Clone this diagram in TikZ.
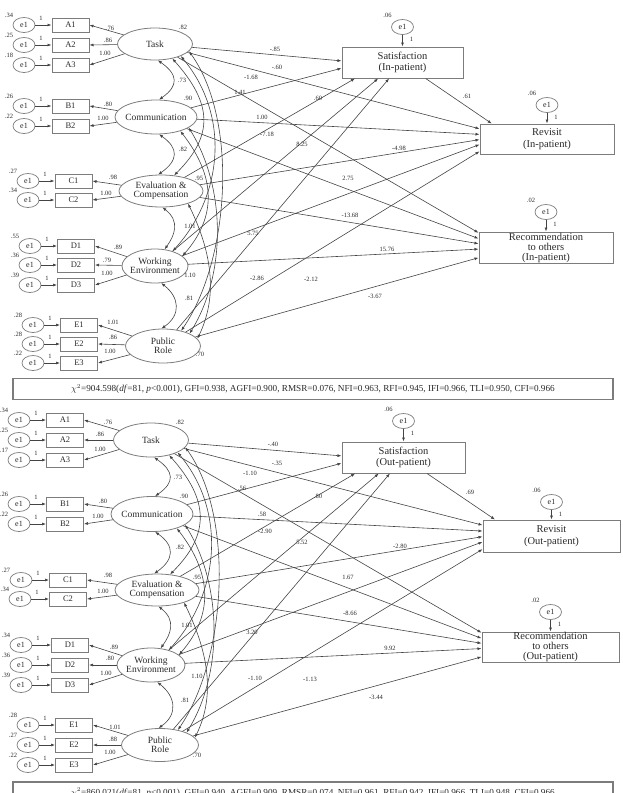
\documentclass[tikz,border=0pt]{standalone}
\usepackage{fontspec}
\setmainfont{Liberation Serif}
\usetikzlibrary{arrows.meta,calc,shapes.geometric}

\definecolor{ink}{HTML}{2A2A2A}
\definecolor{rim}{HTML}{7C7C7C}
\definecolor{wire}{HTML}{444444}

\tikzset{
  >={Latex[length=4pt,width=3pt]},
  lat/.style={ellipse, draw=rim, line width=0.8pt, inner xsep=-16pt, inner ysep=-4pt,
    align=center, font=\fontsize{9.5}{9}\selectfont, text=ink},
  ind/.style={rectangle, draw=rim, line width=1pt, minimum width=37pt, minimum height=14pt,
    inner sep=0pt, font=\fontsize{8.5}{9}\selectfont, text=ink},
  err/.style={ellipse, draw=rim, line width=0.7pt, minimum width=22pt, minimum height=15pt,
    inner sep=0pt, font=\fontsize{8}{8}\selectfont, text=ink},
  outc/.style={rectangle, draw=rim, line width=1pt, inner sep=0pt, align=center,
    font=\fontsize{10.5}{10}\selectfont, text=ink},
  num/.style={inner sep=0pt, font=\fontsize{6.5}{7}\selectfont, text=ink},
  fitbox/.style={rectangle, draw=rim, line width=1.2pt, minimum width=600pt, minimum height=21pt,
    inner sep=0pt, font=\fontsize{9.2}{9}\selectfont, text=ink},
  arr/.style={draw=wire, line width=0.6pt, ->},
  cov/.style={draw=wire, line width=0.6pt, <->},
}

% indicator row: name, text, box x, y, error x, variance, factor, loading, loading position
\newcommand\indrow[9]{%
  \node[ind] (#1) at (#3,#4) {#2};
  \node[err] (e#1) at (#5,#4) {e1};
  \draw[arr] (e#1) -- (#1);
  \node[num] at ($(e#1)+(17,-7)$) {1};
  \node[num] at ($(e#1)+(-15,-10)$) {#6};
  \draw[arr] (#7) -- (#1.east);
  \node[num] at (#9) {#8};
}

% outcome box: name, text, centre x, centre y, width, height, variance, error y
\newcommand\outbox[8]{%
  \node[outc, minimum width=#5pt, minimum height=#6pt] (#1) at (#3,#4) {#2};
  \node[err] (e#1) at (#3,#8) {e1};
  \draw[arr] (e#1) -- (#1);
  \node[num] at ($(e#1)+(-15,-12)$) {#7};
  \node[num] at ($(e#1)+(9,12)$) {1};
}

% structural paths and factor covariances of one model (prefix t or b)
\newcommand\structure[1]{%
  \foreach \s/\f in {Task/0.45, Comm/0.68}
    \draw[arr] (#1\s) -- ($(#1Sat.north west)!\f!(#1Sat.south west)$);
  \foreach \s/\f in {Eval/0.11, Work/0.30, Pub/0.39}
    \draw[arr] (#1\s) -- ($(#1Sat.south west)!\f!(#1Sat.south east)$);
  \foreach \s/\f in {Task/0.17, Comm/0.35, Eval/0.52, Work/0.68, Pub/0.9}
    \draw[arr] (#1\s) -- ($(#1Rev.north west)!\f!(#1Rev.south west)$);
  \foreach \s/\f in {Task/0.04, Comm/0.22, Eval/0.38, Work/0.55, Pub/0.82}
    \draw[arr] (#1\s) -- ($(#1Rec.north west)!\f!(#1Rec.south west)$);
  \draw[arr] ($(#1Sat.south west)!0.69!(#1Sat.south east)$) -- ($(#1Rev.north west)!0.09!(#1Rev.north east)$);
  % neighbouring factors
  \draw[cov] (#1Task.-80) .. controls +(20,14) and +(20,-14) .. (#1Comm.80);
  \draw[cov] (#1Comm.-80) .. controls +(20,14) and +(20,-14) .. (#1Eval.100);
  \draw[cov] (#1Eval.-85) .. controls +(18,14) and +(10,-14) .. (#1Work.60);
  \draw[cov] (#1Work.-70) .. controls +(18,14) and +(20,-14) .. (#1Pub.95);
  % distant factors
  \draw[cov] (#1Task.-40) .. controls +(40,45) and +(40,-40) .. (#1Eval.50);
  \draw[cov] (#1Task.-25) .. controls +(50,60) and +(50,-55) .. (#1Work.40);
  \draw[cov] (#1Task.-12) .. controls +(50,70) and +(48,-70) .. (#1Pub.40);
  \draw[cov] (#1Comm.-30) .. controls +(35,45) and +(35,-40) .. (#1Work.20);
  \draw[cov] (#1Comm.-18) .. controls +(37,60) and +(37,-60) .. (#1Pub.25);
  \draw[cov] (#1Eval.-25) .. controls +(22,45) and +(22,-45) .. (#1Pub.12);
}

\begin{document}
\begin{tikzpicture}[x=1pt,y=-1pt]
\useasboundingbox (0,0) rectangle (623,793);
\begin{scope}
\clip (0,0) rectangle (623,793);

% ---------------- in-patient model ----------------
\node[lat, minimum width=75pt, minimum height=32pt] (tTask) at (155,44) {Task};
\node[lat, minimum width=82pt, minimum height=34pt] (tComm) at (156,117) {Communication};
\node[lat, minimum width=84pt, minimum height=32pt] (tEval) at (161,191) {Evaluation \&\\Compensation};
\node[lat, minimum width=66pt, minimum height=34pt] (tWork) at (155,266) {Working\\Environment};
\node[lat, minimum width=75pt, minimum height=34pt] (tPub) at (163,346) {Public\\Role};

\indrow{tA1}{A1}{70.5}{25}{24}{.34}{tTask}{.76}{110,28}
\indrow{tA2}{A2}{70.5}{45}{24}{.25}{tTask}{.86}{108,40}
\indrow{tA3}{A3}{70.5}{65}{24}{.18}{tTask}{1.00}{105,53}
\indrow{tB1}{B1}{70.5}{106}{24}{.26}{tComm}{.80}{108,104}
\indrow{tB2}{B2}{70.5}{126}{24}{.22}{tComm}{1.00}{103,118}
\indrow{tC1}{C1}{73.5}{181}{28}{.27}{tEval}{.98}{113,177}
\indrow{tC2}{C2}{73.5}{200}{28}{.34}{tEval}{1.00}{106,193}
\indrow{tD1}{D1}{76}{246}{30}{.55}{tWork}{.89}{118,247}
\indrow{tD2}{D2}{76}{265}{30}{.36}{tWork}{.79}{107,260}
\indrow{tD3}{D3}{76}{285}{30}{.39}{tWork}{1.00}{107,273}
\indrow{tE1}{E1}{79}{325}{33}{.28}{tPub}{1.01}{113,322}
\indrow{tE2}{E2}{79}{344}{33}{.28}{tPub}{.86}{113,337}
\indrow{tE3}{E3}{79}{363}{33}{.22}{tPub}{1.00}{110,351}

\outbox{tSat}{Satisfaction\\[1.5pt](In-patient)}{402.5}{62.5}{121}{31}{.06}{27}
\outbox{tRev}{Revisit\\[1.5pt](In-patient)}{547}{139}{134}{30}{.06}{105}
\outbox{tRec}{Recommendation\\to others\\(In-patient)}{546}{247.5}{134}{31}{.02}{212}

\structure{t}

% factor variances and covariances
\node[num] at (183,27) {.82};
\node[num] at (182,80) {.73};
\node[num] at (188,98) {.90};
\node[num] at (183,149) {.82};
\node[num] at (199,178) {.95};
\node[num] at (190,226) {1.01};
\node[num] at (190,275) {1.10};
\node[num] at (189,298) {.81};
\node[num] at (200,354) {.70};

% path coefficients
\node[num] at (275,49) {-.85};
\node[num] at (277,67) {-.60};
\node[num] at (251,77) {-1.68};
\node[num] at (240,92) {1.41};
\node[num] at (318,98) {.60};
\node[num] at (262,117) {1.00};
\node[num] at (267,134) {-7.18};
\node[num] at (302,144) {8.25};
\node[num] at (399,148) {-4.98};
\node[num] at (348,178) {2.75};
\node[num] at (350,215) {-13.68};
\node[num] at (253,233) {5.75};
\node[num] at (387,249) {15.76};
\node[num] at (257,278) {-2.86};
\node[num] at (311,279) {-2.12};
\node[num] at (375,296) {-3.67};
\node[num] at (467,96) {.61};

\node[fitbox] (tFit) at (313,389) {$\chi^2$=904.598(\textit{df}=81, \textit{p}<0.001), GFI=0.938, AGFI=0.900, RMSR=0.076, NFI=0.963, RFI=0.945, IFI=0.966, TLI=0.950, CFI=0.966};

% ---------------- out-patient model ----------------
\node[lat, minimum width=75pt, minimum height=34pt] (bTask) at (151,440) {Task};
\node[lat, minimum width=82pt, minimum height=35pt] (bComm) at (152,514) {Communication};
\node[lat, minimum width=84pt, minimum height=32pt] (bEval) at (157,590) {Evaluation \&\\Compensation};
\node[lat, minimum width=68pt, minimum height=34pt] (bWork) at (151,665) {Working\\Environment};
\node[lat, minimum width=77pt, minimum height=33pt] (bPub) at (160,745) {Public\\Role};

\indrow{bA1}{A1}{65}{420}{19}{.34}{bTask}{.76}{108,422}
\indrow{bA2}{A2}{65}{440}{19}{.25}{bTask}{.86}{100,434}
\indrow{bA3}{A3}{65}{460}{19}{.17}{bTask}{1.00}{100,449}
\indrow{bB1}{B1}{65}{504}{19}{.26}{bComm}{.80}{103,501}
\indrow{bB2}{B2}{65}{524}{19}{.22}{bComm}{1.00}{98,516}
\indrow{bC1}{C1}{68}{580}{21}{.27}{bEval}{.98}{108,575}
\indrow{bC2}{C2}{68}{599}{20}{.34}{bEval}{1.00}{103,591}
\indrow{bD1}{D1}{70}{645}{21}{.34}{bWork}{.89}{114,647}
\indrow{bD2}{D2}{70}{665}{21}{.36}{bWork}{.80}{110,658}
\indrow{bD3}{D3}{70}{685}{21}{.39}{bWork}{1.00}{106,673}
\indrow{bE1}{E1}{74}{725}{28}{.28}{bPub}{1.01}{115,727}
\indrow{bE2}{E2}{74}{745}{28}{.27}{bPub}{.88}{113,739}
\indrow{bE3}{E3}{74}{765}{28}{.22}{bPub}{1.00}{110,752}

\outbox{bSat}{Satisfaction\\[1.5pt](Out-patient)}{403.5}{457.5}{123}{31}{.06}{421}
\outbox{bRev}{Revisit\\[1.5pt](Out-patient)}{551.5}{536}{137}{32}{.06}{502}
\outbox{bRec}{Recommendation\\to others\\(Out-patient)}{550.5}{647}{137}{30}{.02}{612}

\structure{b}

\node[num] at (180,422) {.82};
\node[num] at (178,477) {.73};
\node[num] at (184,496) {.90};
\node[num] at (180,547) {.82};
\node[num] at (197,577) {.95};
\node[num] at (187,625) {1.01};
\node[num] at (197,676) {1.10};
\node[num] at (185,700) {.81};
\node[num] at (197,755) {.70};

\node[num] at (273,444) {-.40};
\node[num] at (277,463) {-.35};
\node[num] at (250,473) {-1.10};
\node[num] at (242,488) {.56};
\node[num] at (318,496) {.80};
\node[num] at (262,514) {.58};
\node[num] at (265,531) {-2.90};
\node[num] at (302,542) {5.52};
\node[num] at (400,546) {-2.80};
\node[num] at (348,577) {1.67};
\node[num] at (350,613) {-8.66};
\node[num] at (252,632) {3.20};
\node[num] at (390,648) {9.92};
\node[num] at (255,678) {-1.10};
\node[num] at (310,679) {-1.13};
\node[num] at (376,697) {-3.44};
\node[num] at (470,492) {.69};

\node[fitbox] (bFit) at (313,792.5) {$\chi^2$=860.021(\textit{df}=81, \textit{p}<0.001), GFI=0.940, AGFI=0.909, RMSR=0.074, NFI=0.961, RFI=0.942, IFI=0.966, TLI=0.948, CFI=0.966};
\end{scope}
\end{tikzpicture}
\end{document}
